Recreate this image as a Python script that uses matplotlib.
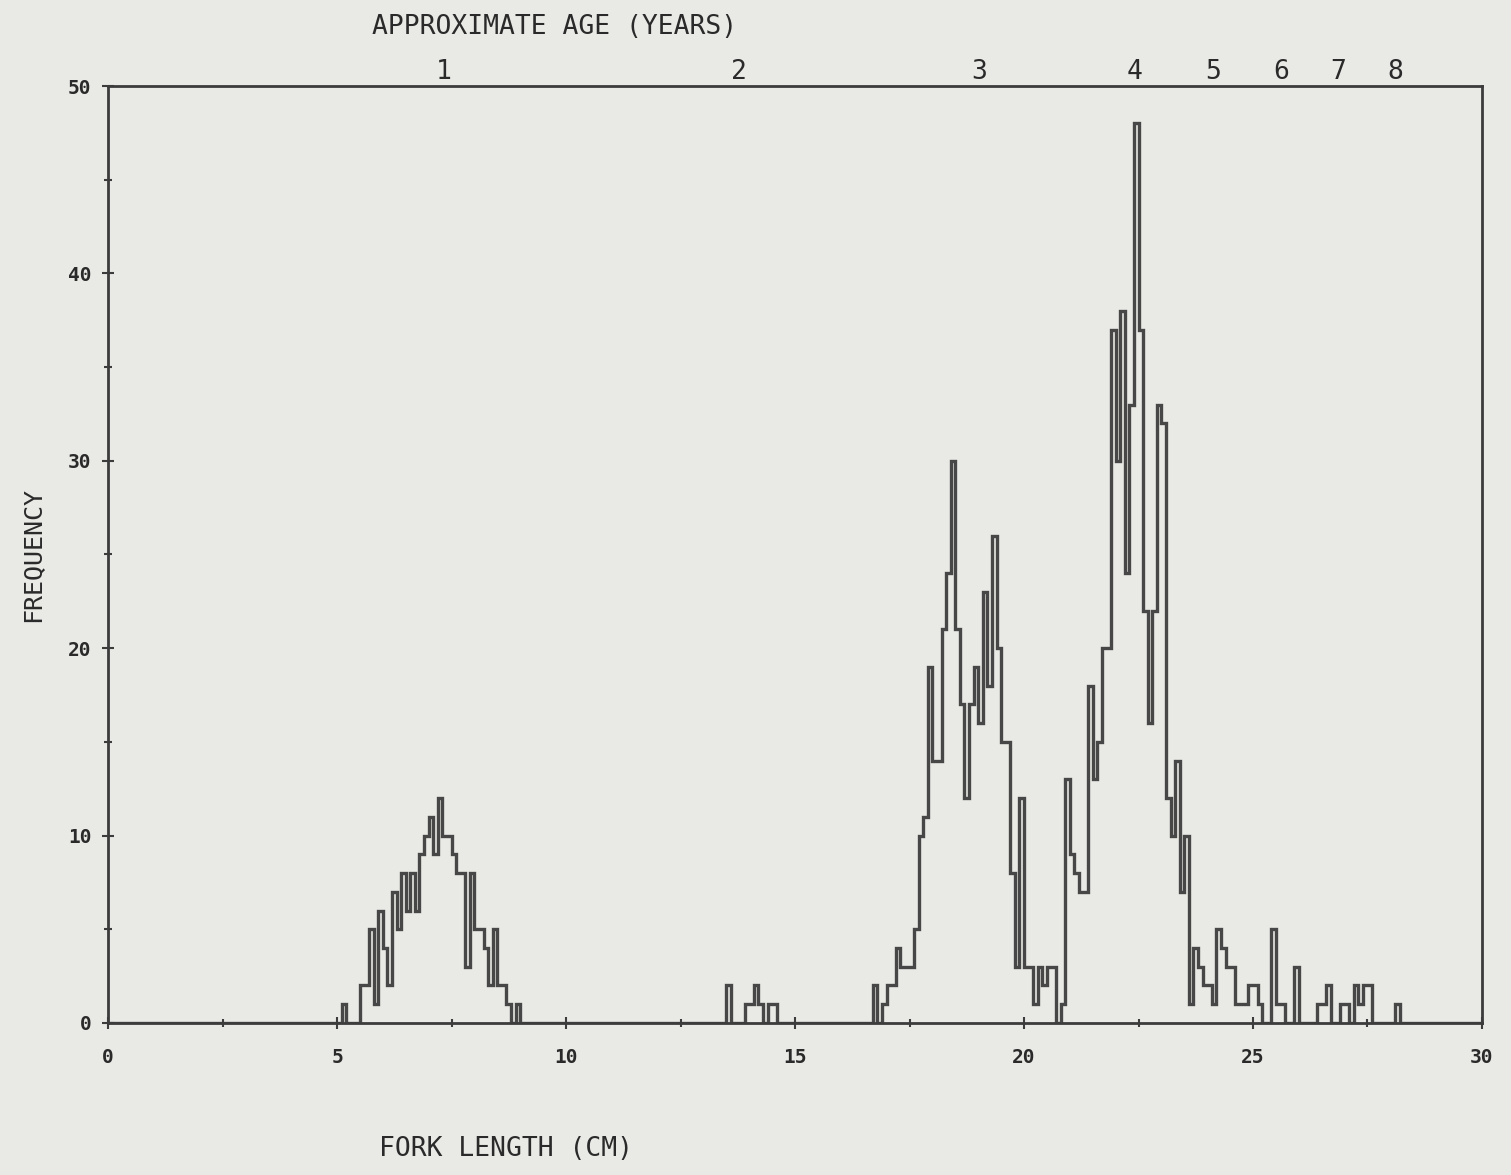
import numpy as np
import matplotlib
matplotlib.use("Agg")
from matplotlib import pyplot as plt

# fork length (cm, left edge of 0.1 cm class) and number of fish in that class
lengths = [5.1,
           5.5, 5.6, 5.7, 5.8, 5.9, 6.0, 6.1, 6.2, 6.3, 6.4, 6.5, 6.6, 6.7, 6.8,
           6.9, 7.0, 7.1, 7.2, 7.3, 7.4, 7.5, 7.6, 7.7, 7.8, 7.9, 8.0, 8.1, 8.2,
           8.3, 8.4, 8.5, 8.6, 8.7, 8.9,
           13.5, 13.9, 14.0, 14.1, 14.2, 14.4, 14.5,
           16.7, 16.9, 17.0, 17.1, 17.2, 17.3, 17.4, 17.5, 17.6, 17.7, 17.8, 17.9,
           18.0, 18.1, 18.2, 18.3, 18.4, 18.5, 18.6, 18.7, 18.8, 18.9, 19.0, 19.1,
           19.2, 19.3, 19.4, 19.5, 19.6, 19.7, 19.8, 19.9, 20.0, 20.1, 20.2, 20.3,
           20.4, 20.5, 20.6, 20.8, 20.9, 21.0, 21.1, 21.2, 21.3, 21.4, 21.5, 21.6,
           21.7, 21.8, 21.9, 22.0, 22.1, 22.2, 22.3, 22.4, 22.5, 22.6, 22.7, 22.8,
           22.9, 23.0, 23.1, 23.2, 23.3, 23.4, 23.5, 23.6, 23.7, 23.8, 23.9, 24.0,
           24.1, 24.2, 24.3, 24.4, 24.5, 24.6, 24.7, 24.8, 24.9, 25.0, 25.1, 25.4,
           25.5, 25.6, 25.9, 26.4, 26.5, 26.6, 26.9, 27.0, 27.2, 27.3, 27.4, 27.5,
           28.1]
counts = [1,
          2, 2, 5, 1, 6, 4, 2, 7, 5, 8, 6, 8, 6, 9,
          10, 11, 9, 12, 10, 10, 9, 8, 8, 3, 8, 5, 5, 4,
          2, 5, 2, 2, 1, 1,
          2, 1, 1, 2, 1, 1, 1,
          2, 1, 2, 2, 4, 3, 3, 3, 5, 10, 11, 19,
          14, 14, 21, 24, 30, 21, 17, 12, 17, 19, 16, 23,
          18, 26, 20, 15, 15, 8, 3, 12, 3, 3, 1, 3,
          2, 3, 3, 1, 13, 9, 8, 7, 7, 18, 13, 15,
          20, 20, 37, 30, 38, 24, 33, 48, 37, 22, 16, 22,
          33, 32, 12, 10, 14, 7, 10, 1, 4, 3, 2, 2,
          1, 5, 4, 3, 3, 1, 1, 1, 2, 2, 1, 5,
          1, 1, 3, 1, 1, 2, 1, 1, 2, 1, 2, 2,
          1]

# approximate age (years) marked along the top
ages = ['1', '2', '3', '4', '5', '6', '7', '8']
age_lengths = [7.34, 13.78, 19.02, 22.42, 24.12, 25.61, 26.86, 28.10]

bin_w = 0.1
edges = np.round(np.arange(0, 30 + bin_w / 2, bin_w), 1)
freq = np.zeros(len(edges) - 1)
for L, c in zip(lengths, counts):
    freq[int(round(L / bin_w))] = c

paper = '#e9e9e5'
ink = '#3c3c3c'
pen = '#474747'
txt = '#2a2a2a'
font = 'DejaVu Sans Mono'

fig = plt.figure(figsize=(15.11, 11.75), dpi=100, facecolor=paper)
ax = fig.add_axes([0.0715, 0.1294, 0.9093, 0.7974])
ax.set_facecolor(paper)

ax.stairs(freq, edges, color=pen, linewidth=2.4)

ax.set_xlim(0, 30)
ax.set_ylim(0, 50)
for s in ax.spines.values():
    s.set_color(ink)
    s.set_linewidth(2.0)

ax.set_xticks([0, 5, 10, 15, 20, 25, 30])
ax.set_xticks(np.arange(2.5, 30, 5), minor=True)
ax.set_yticks([0, 10, 20, 30, 40, 50])
ax.set_yticks([5, 15, 25, 35, 45], minor=True)
ax.tick_params(axis='both', which='both', direction='inout', color=ink,
               width=1.5, labelcolor=txt)
ax.tick_params(axis='both', which='major', length=8)
ax.tick_params(axis='both', which='minor', length=6)
ax.tick_params(axis='x', pad=14, labelsize=14)
ax.tick_params(axis='y', pad=8, labelsize=14)
for lab in ax.get_xticklabels() + ax.get_yticklabels():
    lab.set_fontfamily(font)
    lab.set_fontweight('bold')

# age labels above the frame
for a, x in zip(ages, age_lengths):
    ax.text(x, 50.75, a, ha='center', va='center', fontsize=19,
            family=font, color=txt)
ax.text(9.74, 53.15, 'APPROXIMATE AGE (YEARS)', ha='center', va='center',
        fontsize=19, family=font, color=txt)

ax.text(8.7, -6.7, 'FORK LENGTH (CM)', ha='center', va='center',
        fontsize=19, family=font, color=txt)
ax.text(-1.65, 25, 'FREQUENCY', ha='center', va='center', rotation=90,
        fontsize=18, family=font, color=txt)

fig.savefig('out.png', dpi=100, facecolor=paper)
